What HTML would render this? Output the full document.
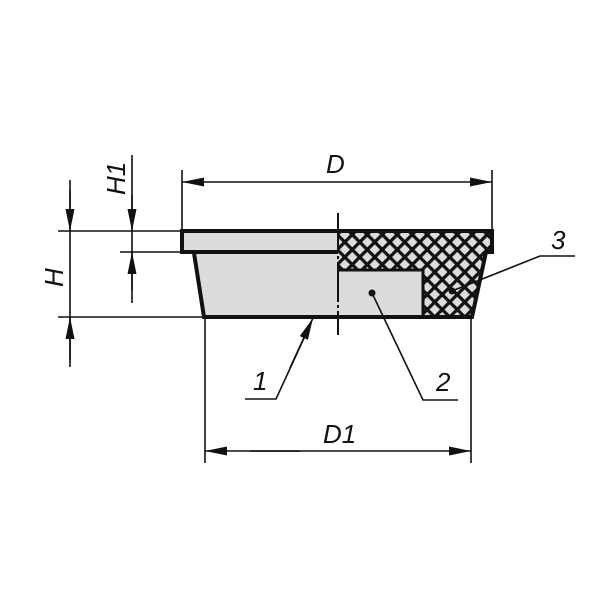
<!DOCTYPE html>
<html><head><style>html,body{margin:0;padding:0;background:#fff}svg{display:block}</style></head>
<body>
<svg width="600" height="600" viewBox="0 0 600 600" xmlns="http://www.w3.org/2000/svg">
<defs>
<pattern id="h" patternUnits="userSpaceOnUse" width="10.6" height="10.6" patternTransform="rotate(45)">
<rect width="10.6" height="10.6" fill="#dcdcdc"/>
<rect x="0" y="0" width="10.6" height="3.2" fill="#111"/>
<rect x="0" y="0" width="3.2" height="10.6" fill="#111"/>
</pattern>
<marker id="a" viewBox="0 0 22 9" refX="22" refY="4.5" markerWidth="22" markerHeight="9" markerUnits="userSpaceOnUse" orient="auto">
<path d="M0,0 L22,4.5 L0,9 Z" fill="#111"/></marker>
</defs>
<g stroke="#111" fill="none" stroke-width="1.6">
<line x1="58" y1="231" x2="182" y2="231"/>
<line x1="120" y1="252" x2="194" y2="252"/>
<line x1="58" y1="317" x2="205" y2="317"/>
<line x1="182" y1="170" x2="182" y2="231"/>
<line x1="492" y1="170" x2="492" y2="231"/>
<line x1="205" y1="317" x2="205" y2="463"/>
<line x1="471" y1="317" x2="471" y2="463"/>
<line x1="70" y1="180" x2="70" y2="367"/>
<line x1="70" y1="190" x2="70" y2="231" marker-end="url(#a)"/>
<line x1="70" y1="360" x2="70" y2="317" marker-end="url(#a)"/>
<line x1="132" y1="155" x2="132" y2="303"/>
<line x1="132" y1="195" x2="132" y2="231" marker-end="url(#a)"/>
<line x1="132" y1="290" x2="132" y2="252" marker-end="url(#a)"/>
<line x1="200" y1="182" x2="182" y2="182" marker-end="url(#a)"/>
<line x1="190" y1="182" x2="492" y2="182" marker-end="url(#a)"/>
<line x1="300" y1="451" x2="205" y2="451" marker-end="url(#a)"/>
<line x1="250" y1="451" x2="471" y2="451" marker-end="url(#a)"/>
</g>
<rect x="182" y="231" width="156" height="21" fill="#dcdcdc"/>
<polygon points="194,253 338,253 338,317 204,317" fill="#dcdcdc"/>
<rect x="338" y="231" width="154" height="21" fill="url(#h)"/>
<polygon points="338,252 485,252 472,317 338,317" fill="url(#h)"/>
<rect x="338" y="270" width="85" height="47" fill="#dcdcdc"/>
<g stroke="#111" fill="none" stroke-width="4">
<polyline points="338,231 182,231 182,252 338,252"/>
<polyline points="338,231 492,231 492,252 486,252 472,317 204,317 194,253"/>
<polyline points="338,270 423,270 423,317" stroke-width="3"/>
</g>
<line x1="338" y1="213" x2="338" y2="335" stroke="#111" stroke-width="2" stroke-dasharray="40,3,3,3"/>
<g stroke="#111" fill="none" stroke-width="1.6">
<polyline points="245,399 276,399 310,325"/>
<line x1="290" y1="368" x2="313" y2="318" marker-end="url(#a)"/>
<polyline points="372,293 423,400 458,400"/>
<polyline points="452,291 540,256 575,256"/>
</g>
<circle cx="372" cy="293" r="3.5" fill="#111"/>
<circle cx="452" cy="291" r="3.5" fill="#111"/>
<g font-family="Liberation Sans, sans-serif" font-style="italic" font-size="26" fill="#111">
<text x="326" y="173">D</text>
<text x="323" y="443">D1</text>
<text x="253" y="390">1</text>
<text x="436" y="391">2</text>
<text x="551" y="249">3</text>
<text transform="translate(63,287) rotate(-90)">H</text>
<text transform="translate(125,195) rotate(-90)">H1</text>
</g>
</svg>
</body></html>
